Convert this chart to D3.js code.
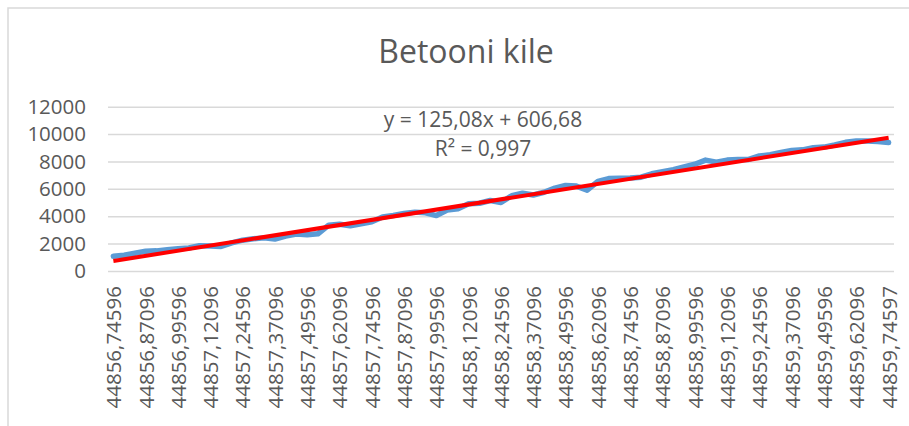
<!DOCTYPE html>
<html>
<head>
<meta charset="utf-8">
<script src="https://cdn.jsdelivr.net/npm/d3@7"></script>
<style>
  body { margin: 0; background: #fff; }
  svg text { font-family: "Open Sans", "Liberation Sans", sans-serif; fill: #595959; }
</style>
</head>
<body>
<div id="chart"></div>
<script>
const TITLE = "Betooni kile";

// x axis labels, one per every 3rd measurement
const tickLabels = [
  "44856,74596", "44856,87096", "44856,99596", "44857,12096", "44857,24596",
  "44857,37096", "44857,49596", "44857,62096", "44857,74596", "44857,87096",
  "44857,99596", "44858,12096", "44858,24596", "44858,37096", "44858,49596",
  "44858,62096", "44858,74596", "44858,87096", "44858,99596", "44859,12096",
  "44859,24596", "44859,37096", "44859,49596", "44859,62096", "44859,74597"
];

const kile = [
  1080, 1150, 1300, 1450, 1470, 1550, 1620, 1680, 1850, 1820,
  1790, 2050, 2250, 2350, 2420, 2330, 2550, 2700, 2650, 2720,
  3350, 3420, 3300, 3450, 3600, 3950, 4050, 4200, 4300, 4250,
  4050, 4450, 4550, 4920, 4950, 5150, 5000, 5500, 5680, 5550,
  5750, 6050, 6250, 6200, 5900, 6550, 6750, 6780, 6790, 6850,
  7100, 7250, 7400, 7600, 7800, 8100, 7950, 8100, 8150, 8150,
  8400, 8500, 8650, 8800, 8850, 9000, 9050, 9200, 9400, 9500,
  9500, 9450, 9380
];

const yTicks = [0, 2000, 4000, 6000, 8000, 10000, 12000];

// linear trendline as printed on the chart
const trendSlope = 125.08;
const trendIntercept = 606.68;
const trendText = ["y = 125,08x + 606,68", "R² = 0,997"];

const width = 909, height = 426;
const plot = { left: 108, right: 894, top: 106.7, bottom: 271 };

const svg = d3.select("#chart").append("svg")
  .attr("width", width)
  .attr("height", height);

// chart area border (only top and left are visible in the crop)
svg.append("rect")
  .attr("x", 8).attr("y", 8)
  .attr("width", width + 10).attr("height", height + 10)
  .attr("fill", "none")
  .attr("stroke", "#d9d9d9")
  .attr("stroke-width", 1.5);

const idx = d3.range(1, kile.length + 1);

const x = d3.scalePoint()
  .domain(idx)
  .range([plot.left, plot.right])
  .padding(0.5);

const y = d3.scaleLinear()
  .domain([0, 12000])
  .range([plot.bottom, plot.top]);

// gridlines
svg.append("g")
  .attr("transform", `translate(${plot.left},0)`)
  .call(d3.axisLeft(y).tickValues(yTicks).tickSize(-(plot.right - plot.left)).tickFormat(""))
  .call(g => g.select(".domain").remove())
  .call(g => g.selectAll("line").attr("stroke", "#d9d9d9").attr("stroke-width", 1.5));

// y labels
svg.append("g")
  .attr("transform", "translate(86,0)")
  .call(d3.axisLeft(y).tickValues(yTicks).tickSize(0).tickPadding(0).tickFormat(d3.format("d")))
  .call(g => g.select(".domain").remove())
  .call(g => g.selectAll("text")
    .style("font-size", "20.5px")
    .attr("fill", "#595959"));

// x labels, rotated
const tickIdx = d3.range(1, kile.length + 1, 3);
const xAxis = svg.append("g")
  .attr("transform", `translate(0,${plot.bottom})`)
  .call(d3.axisBottom(x).tickValues(tickIdx).tickSize(0)
    .tickFormat((d, i) => tickLabels[i]))
  .call(g => g.select(".domain").remove());
xAxis.selectAll("text")
  .style("font-size", "20.5px")
  .attr("fill", "#595959")
  .attr("text-anchor", "end")
  .attr("transform", "rotate(-90)")
  .attr("x", -15)
  .attr("y", 0)
  .attr("dy", "0.36em");

// measured series
const line = d3.line()
  .x((d, i) => x(i + 1))
  .y(d => y(d));

svg.append("path")
  .datum(kile)
  .attr("fill", "none")
  .attr("stroke", "#5b9bd5")
  .attr("stroke-width", 5.5)
  .attr("stroke-linejoin", "round")
  .attr("stroke-linecap", "round")
  .attr("d", line);

// trendline
const ends = [1, kile.length];
svg.append("path")
  .datum(ends)
  .attr("fill", "none")
  .attr("stroke", "#ff0000")
  .attr("stroke-width", 4)
  .attr("d", d3.line()
    .x(d => x(d))
    .y(d => y(trendSlope * d + trendIntercept)));

// trend equation
svg.append("g").selectAll("text")
  .data(trendText)
  .join("text")
  .attr("x", 483)
  .attr("y", (d, i) => 127 + i * 28.5)
  .attr("text-anchor", "middle")
  .style("font-size", "21px")
  .text(d => d);

// title
svg.append("text")
  .attr("x", 466)
  .attr("y", 63)
  .attr("text-anchor", "middle")
  .style("font-size", "32px")
  .text(TITLE);
</script>
</body>
</html>
